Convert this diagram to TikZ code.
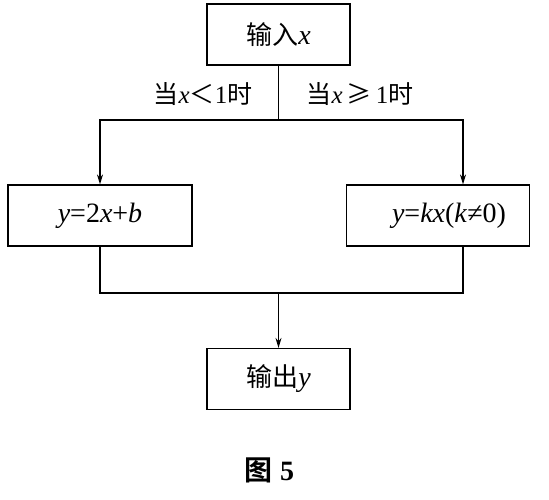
\documentclass[tikz,border=0pt]{standalone}
\usepackage{fontspec}
\setmainfont{Liberation Serif}
\newfontfamily\cjk{Noto Sans CJK SC}
\newfontfamily\cjkb{Noto Sans CJK SC Bold}
\usetikzlibrary{arrows.meta}
\newcommand{\vx}[1]{\textit{#1}}
\begin{document}
\begin{tikzpicture}[x=1pt,y=-1pt,
  box/.style={draw,line width=1.2pt,minimum width=#1,minimum height=61pt,inner sep=0pt,font=\fontsize{28}{28}\selectfont},
  box/.default=143pt,
  lbl/.style={font=\fontsize{25}{25}\selectfont,inner sep=0pt},
  ln/.style={line width=1.1pt},
  arr/.style={ln,-{Stealth[length=10pt,width=6pt]}}]
\useasboundingbox (0,0) rectangle (549,499);
\node[box] (in) at (278.5,34.5) {{\fontsize{26}{26}\selectfont\cjk 输入}\vx{x}};
\node[box=184pt] (L) at (100,215.5) {\vx{y}=2\vx{x}+\vx{b}};
\node[box=183pt] (R) at (438,215.5) {\hspace*{22pt}\vx{y}=\vx{kx}(\vx{k}≠0)};
\node[box] (out) at (278.5,379) {{\fontsize{26}{26}\selectfont\cjk 输出}\vx{y}};
\node[lbl] (l1) at (203,94) {{\cjk 当}\vx{x}{\cjk ＜}1{\cjk 时}};
\node[lbl] (l2) at (360,94) {{\cjk 当}\vx{x}\,{\cjk ≥}\,1{\cjk 时}};
\node[font=\fontsize{28}{28}\selectfont,inner sep=0pt] (cap) at (269,470) {{\cjkb 图}\hspace{8pt}\textbf{5}};
\coordinate (split) at (in.south |- 0,120);
\coordinate (join) at (out.north |- 0,293);
\draw[ln] (in.south) -- (split);
\draw[arr] (split) -| (L.north);
\draw[arr] (split) -| ([xshift=25pt]R.north);
\draw[ln] (L.south) |- (join);
\draw[ln] ([xshift=25pt]R.south) |- (join);
\draw[arr] (join) -- (out.north);
\end{tikzpicture}
\end{document}
